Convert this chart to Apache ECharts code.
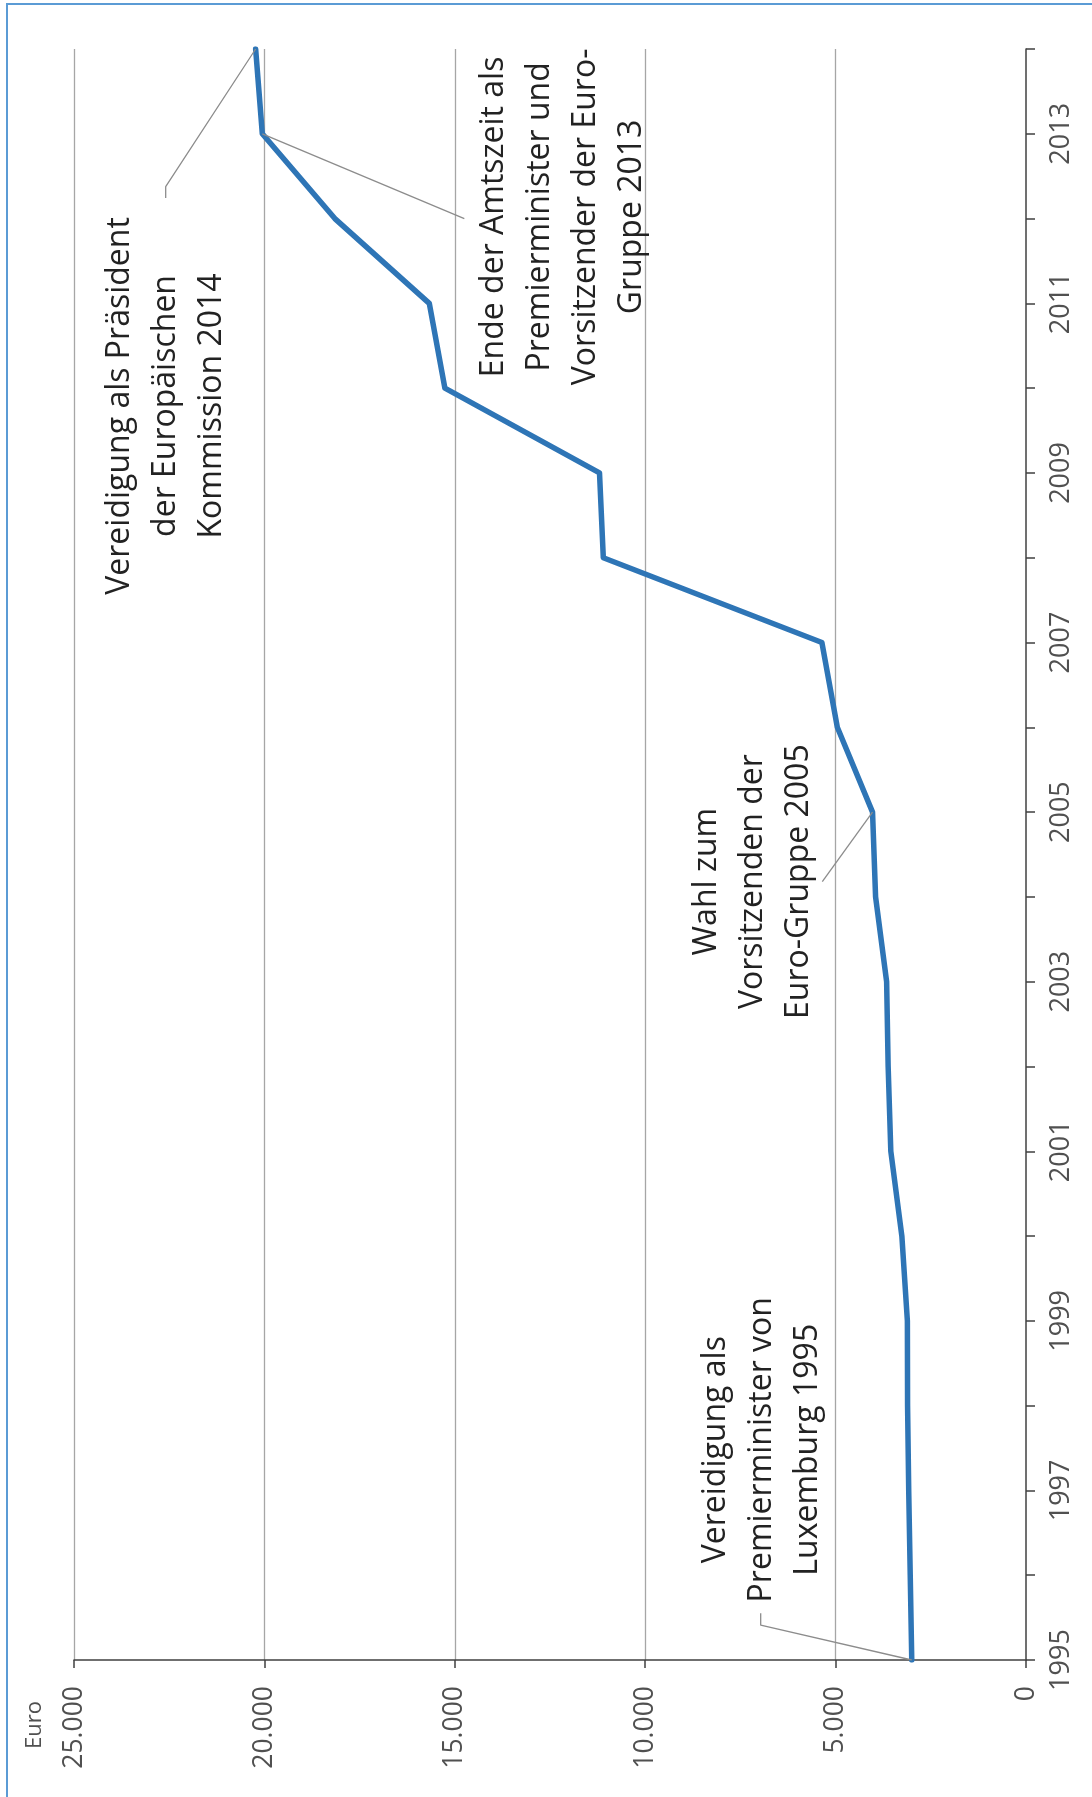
<!DOCTYPE html>
<html><head><meta charset="utf-8">
<script src="https://cdn.jsdelivr.net/npm/echarts@6/dist/echarts.min.js"></script>
<style>html,body{margin:0;padding:0;background:#fff}#c{width:1092px;height:1797px}</style>
</head><body><div id="c"></div>
<script>
// Data (Euro per year)
const years = [1995,1996,1997,1998,1999,2000,2001,2002,2003,2004,2005,2006,2007,2008,2009,2010,2011,2012,2013,2014];
const salary = [3000,3040,3080,3110,3115,3260,3550,3620,3660,3950,4030,4955,5360,11100,11200,15260,15670,18150,20055,20230];
const valueTicks = [0,5000,10000,15000,20000,25000];
const axisName = 'Euro';

// Annotations: text lines, anchor (center) in data space [euro, year]
const annoTexts = [
  ['Vereidigung als Präsident','der Europäischen','Kommission 2014'],
  ['Ende der Amtszeit als','Premierminister und','Vorsitzender der Euro-','Gruppe 2013'],
  ['Wahl zum','Vorsitzenden der','Euro-Gruppe 2005'],
  ['Vereidigung als','Premierminister von','Luxemburg 1995']
];
const annoAnchors = [[22584,2009.79],[12150,2012.02],[7182,2004.18],[6933,1997.48]];
// Leader lines in data space
const leaders = [
  [[20230,2014],[22592,2012.376],[22592,2012.243]],
  [[20055,2013],[14750,2012.0]],
  [[4030,2005],[5349,2004.18]],
  [[3000,1995],[6967,1995.41],[6967,1995.55]]
];

const FONT = '"Open Sans", "DejaVu Sans", sans-serif';
const fmtDE = v => String(v).replace(/\B(?=(\d{3})+(?!\d))/g, '.');

const chart = echarts.init(document.getElementById('c'), null, {renderer:'canvas'});
const option = {
  animation: false,
  backgroundColor: '#ffffff',
  grid: {left: 74, right: 66, top: 49, bottom: 137, containLabel: false},
  xAxis: {
    type: 'value', inverse: true, position: 'bottom',
    min: valueTicks[0], max: valueTicks[valueTicks.length-1], interval: 5000,
    axisLine: {show: true, lineStyle: {color: '#404040', width: 1.5}},
    axisTick: {show: true, length: 8, lineStyle: {color: '#404040', width: 1.5}},
    splitLine: {show: true, showMinLine: false, lineStyle: {color: '#a6a6a6', width: 1.3}},
    axisLabel: {rotate: 90, margin: 26, color: '#505050', fontSize: 26.5, fontFamily: FONT, formatter: fmtDE}
  },
  yAxis: {
    type: 'value', position: 'right',
    min: years[0], max: years[years.length-1], interval: 1,
    axisLine: {show: true, lineStyle: {color: '#404040', width: 1.5}},
    axisTick: {show: true, length: 9, lineStyle: {color: '#404040', width: 1.5}},
    splitLine: {show: false},
    axisLabel: {rotate: 90, margin: 22, color: '#505050', fontSize: 27, fontFamily: FONT,
      formatter: v => (v % 2 === 1 ? String(v) : '')}
  },
  series: [
    {
      type: 'line', name: 'Gehalt', z: 3,
      data: years.map((y, i) => [salary[i], y]),
      symbol: 'none', silent: true,
      lineStyle: {color: '#2E75B6', width: 5.5, cap: 'round', join: 'round'}
    }
  ].concat(leaders.map(pts => ({
    type: 'line', z: 4, data: pts, symbol: 'none', silent: true,
    lineStyle: {color: '#8c8c8c', width: 1.3}
  })))
};
chart.setOption(option);

const graphics = [
  {type: 'rect', shape: {x: 7, y: 4, width: 1200, height: 2000}, silent: true,
   style: {fill: 'none', stroke: '#5B9BD5', lineWidth: 2}},
  {type: 'text', x: 35, y: 1725, rotation: Math.PI/2, silent: true,
   style: {text: axisName, fill: '#505050', font: '22px ' + FONT, textAlign: 'center', textVerticalAlign: 'middle'}}
];
annoTexts.forEach((lines, i) => {
  const p = chart.convertToPixel({gridIndex: 0}, annoAnchors[i]);
  graphics.push({type: 'text', x: p[0], y: p[1], rotation: Math.PI/2, silent: true,
    style: {text: lines.join('\n'), fill: '#222222', font: '32px ' + FONT,
      lineHeight: 46, textAlign: 'center', textVerticalAlign: 'middle'}});
});
chart.setOption({graphic: graphics});
</script>
</body></html>
